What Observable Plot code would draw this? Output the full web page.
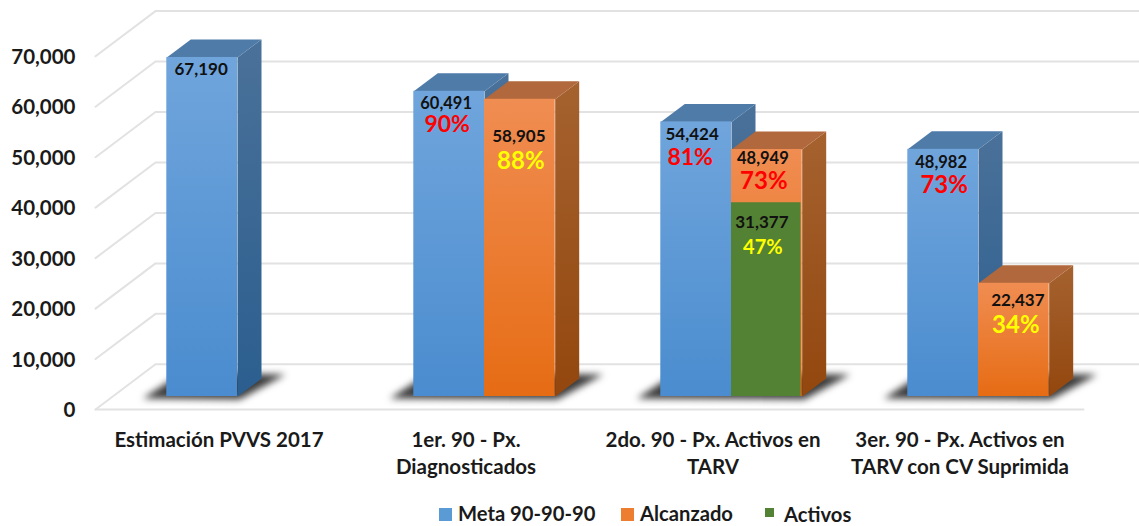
<!DOCTYPE html>
<html>
<head>
<meta charset="utf-8">
<script src="https://cdn.jsdelivr.net/npm/d3@7"></script>
<script src="https://cdn.jsdelivr.net/npm/@observablehq/plot@0.6"></script>
<style>
html,body{margin:0;padding:0;background:#fff;overflow:hidden}
#chart svg{display:block}
#legend{position:relative;height:31px;font:bold 20.2px Lato,sans-serif;color:#1a1a1a}
#legend span{position:absolute;white-space:nowrap;line-height:24px}
#legend i{position:absolute;display:block}
</style>
</head>
<body>
<div id="chart"></div>
<div id="legend"></div>
<script>
const categories = ["Estimación PVVS 2017", "1er. 90 - Px.\nDiagnosticados", "2do. 90 - Px. Activos en\nTARV", "3er. 90 - Px. Activos en\nTARV con CV Suprimida"];
const metaValues = [67190, 60491, 54424, 48982];
const alcanzadoValues = [null, 58905, 48949, 22437];
// Height of the green block (its printed label is 31,377)
const activosHeights = [null, null, 38400, null];
const activosLabels = [null, null, 31377, null];
const metaPct = [null, "90%", "81%", "73%"];
const alcanzadoPct = [null, "88%", "73%", "34%"];
const activosPct = [null, null, "47%", null];
const yTicks = [0, 10000, 20000, 30000, 40000, 50000, 60000, 70000];

// pixels <-> data units of the two linear scales
const W = 1139, H = 495, ML = 95, MR = 56, MT = 55.8, MB = 86;
const pxX = p => p / ((W - ML - MR) / 4);
const pxY = p => p * 70000 / (H - MT - MB);

// "3D" geometry
const barW = pxX(70.7), shift = pxX(18.5), base = pxY(13);
const depthX = pxX(24), depthY = pxY(18);
const wallX = pxX(60), wallY = pxY(45.2);

const bar = (group, slot, value) => {
  const c = group + 0.5 + shift;
  const x0 = c + (slot - 1) * barW;
  return {group, slot, value, x0, x1: x0 + barW, y0: base, y1: base + value};
};
const metaBars = metaValues.map((v, i) => bar(i, 0, v));
const alcBars = alcanzadoValues.map((v, i) => v == null ? null : bar(i, 1, v)).filter(Boolean);
const actBars = activosHeights.map((v, i) => v == null ? null : bar(i, 1, v)).filter(Boolean);

const poly = (bars, pts) => bars.flatMap((b, k) => pts(b).map(([x, y]) => ({id: k, x, y})));
const sideFace = b => [[b.x1, b.y0], [b.x1, b.y1], [b.x1 + depthX, b.y1 + depthY], [b.x1 + depthX, b.y0 + depthY]];
const topFace = b => [[b.x0, b.y1], [b.x1, b.y1], [b.x1 + depthX, b.y1 + depthY], [b.x0 + depthX, b.y1 + depthY]];
const shape = (bars, pts, fill, extra = {}) =>
  Plot.line(poly(bars, pts), {x: "x", y: "y", z: "id", fill, stroke: "none", ...extra});

// floor shadow of each group of bars
const groupBars = metaBars.map((m, i) => ({x0: m.x0, x1: (alcBars.find(a => a.group === i) || m).x1, y0: base}));
const shadow = b => [
  [b.x0 - pxX(24), b.y0 - pxY(2)],
  [b.x1 + pxX(2), b.y0 - pxY(3)],
  [b.x1 + pxX(48), b.y0 + pxY(22)],
  [b.x0 + pxX(16), b.y0 + pxY(24)]
];

// gridlines: front edge -> back wall -> right end
const xEnd = 4 + pxX(MR);
const gridData = yTicks.flatMap(t => [
  {t, x: 0, y: t},
  {t, x: wallX, y: t + wallY},
  {t, x: xEnd, y: t + wallY}
]);
const floorFront = [{x: 0, y: 0}, {x: 4, y: 0}];

// label placement (pixel offsets from each bar's centre and top)
const at = (b, dx, dy, text, size) => ({x: (b.x0 + b.x1) / 2 + pxX(dx), y: b.y1 - pxY(dy), text, size});
const fmt = d3.format(",");
const alc = i => alcBars.find(b => b.group === i);
const act = i => actBars.find(b => b.group === i);
const numberLabels = [
  at(metaBars[0], -1, 12, fmt(metaValues[0]), 17),
  at(metaBars[1], -3, 12.5, fmt(metaValues[1]), 16.5),
  at(metaBars[2], -4, 13, fmt(metaValues[2]), 17),
  at(metaBars[3], -2, 13, fmt(metaValues[3]), 16.5),
  at(alc(1), -1, 37, fmt(alcanzadoValues[1]), 17),
  at(alc(2), -4, 9, fmt(alcanzadoValues[2]), 16.5),
  at(alc(3), 4, 17, fmt(alcanzadoValues[3]), 17),
  at(act(2), -5, 20, fmt(activosLabels[2]), 17)
];
const redLabels = [
  at(metaBars[1], -2, 33.5, metaPct[1], 23),
  at(metaBars[2], -6, 36, metaPct[2], 23),
  at(metaBars[3], 1, 36, metaPct[3], 24),
  at(alc(2), -3, 32, alcanzadoPct[2], 24)
];
const yellowLabels = [
  at(alc(1), 1, 62, alcanzadoPct[1], 24),
  at(alc(3), 2, 42, alcanzadoPct[3], 24),
  at(act(2), -4, 45, activosPct[2], 20)
];
const textMark = (data, fill) => Plot.text(data, {
  x: "x", y: "y", text: "text", fontSize: "size", fill,
  fontWeight: 700, fontFamily: "Lato, sans-serif", stroke: "none"
});

const gradient = (id, top, bottom) => `<linearGradient id="${id}" x1="0" y1="0" x2="0" y2="1"><stop offset="0" stop-color="${top}"/><stop offset="1" stop-color="${bottom}"/></linearGradient>`;
const defs = () => {
  const g = d3.create("svg:defs");
  g.html(
    gradient("blueFront", "#70a5dc", "#4a8ccf") +
    gradient("blueSide", "#4a7199", "#2b5e8f") +
    gradient("orangeFront", "#f08d52", "#e66c14") +
    gradient("orangeSide", "#a5622f", "#93470e")
  );
  return g.node();
};

const faces = (bars, side, top, front) => [
  shape(bars, sideFace, side),
  shape(bars, topFace, top),
  Plot.rect(bars, {x1: "x0", x2: "x1", y1: "y0", y2: "y1", fill: front})
];

const plot = Plot.plot({
  width: W, height: H,
  marginLeft: ML, marginRight: MR, marginTop: MT, marginBottom: MB,
  style: {background: "#fff", overflow: "visible"},
  x: {domain: [0, 4]},
  y: {domain: [0, 70000]},
  marks: [
    defs,
    Plot.line(gridData, {x: "x", y: "y", z: "t", stroke: "#e2e2e2", strokeWidth: 2}),
    Plot.line(floorFront, {x: "x", y: "y", stroke: "#e2e2e2", strokeWidth: 2}),
    shape(groupBars, shadow, "#3c3c3c", {imageFilter: "blur(3.5px)"}),
    ...faces(metaBars, "url(#blueSide)", "#4f7ba8", "url(#blueFront)"),
    ...faces(alcBars, "url(#orangeSide)", "#b0683c", "url(#orangeFront)"),
    Plot.rect(actBars, {x1: "x0", x2: d => d.x1 - pxX(1.2), y1: "y0", y2: "y1", fill: "#548235"}),
    textMark(numberLabels, "#111"),
    textMark(redLabels, "#ff0000"),
    textMark(yellowLabels, "#ffff00"),
    Plot.axisY({
      ticks: yTicks, tickFormat: d3.format(","), tickSize: 0, tickPadding: 20, dy: 1,
      label: null, fontSize: 20.5, fontWeight: 700, fontFamily: "Lato, sans-serif", fill: "#1a1a1a"
    }),
    Plot.axisX({
      ticks: categories.map((c, i) => i + 0.5),
      tickFormat: v => categories[Math.floor(v)],
      tickSize: 0, tickPadding: 18, label: null, lineHeight: 1.33,
      fontSize: 20.5, fontWeight: 700, fontFamily: "Lato, sans-serif", fill: "#1a1a1a"
    })
  ]
});
document.getElementById("chart").appendChild(plot);

const legendItems = [
  {label: "Meta 90-90-90", color: "#5b9bd5", sx: 439, sy: 13, ss: 13, tx: 458, ty: 6},
  {label: "Alcanzado", color: "#ed7d31", sx: 621, sy: 13, ss: 13, tx: 640, ty: 6},
  {label: "Activos", color: "#548235", sx: 765, sy: 13, ss: 9, tx: 784, ty: 7}
];
const legend = document.getElementById("legend");
legendItems.forEach(d => {
  const s = document.createElement("i");
  s.style.cssText = `left:${d.sx}px;top:${d.sy}px;width:${d.ss}px;height:${d.ss}px;background:${d.color}`;
  const t = document.createElement("span");
  t.style.cssText = `left:${d.tx}px;top:${d.ty}px`;
  t.textContent = d.label;
  legend.append(s, t);
});
</script>
</body>
</html>
